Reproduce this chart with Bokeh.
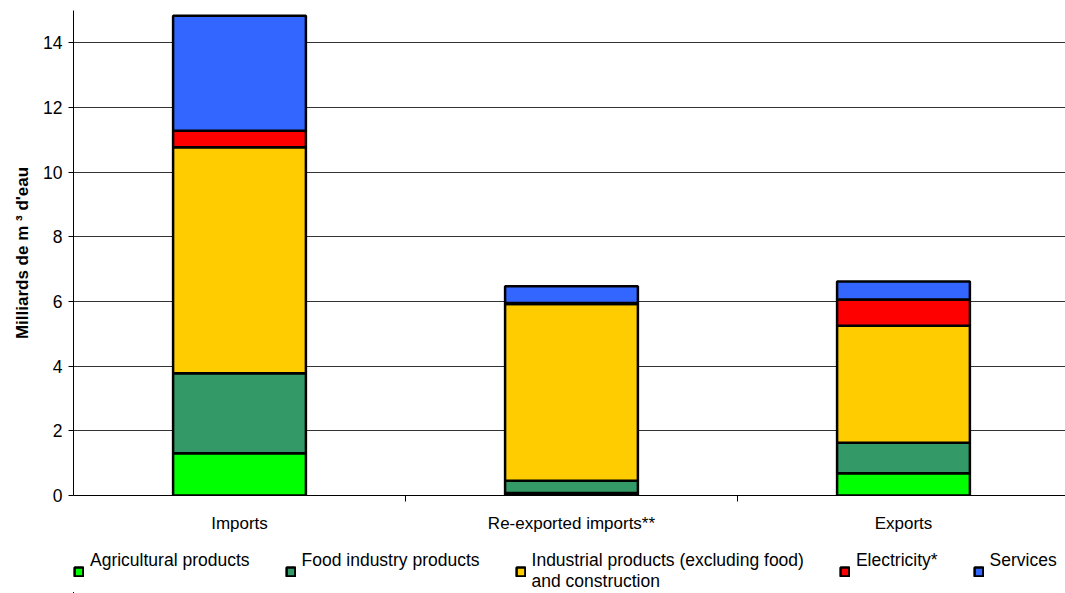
from bokeh.plotting import figure
from bokeh.models import FixedTicker, Legend, LegendItem, Range1d
from bokeh.layouts import column
from bokeh.embed import file_html
from bokeh.resources import INLINE

categories = ["Imports", "Re-exported imports**", "Exports"]
series_names = ["Agricultural products", "Food industry products",
                "Industrial products (excluding food)\nand construction",
                "Electricity*", "Services"]
agricultural = [1.31, 0.08, 0.69]
food = [2.47, 0.38, 0.94]
industrial = [6.99, 5.46, 3.62]
electricity = [0.51, 0.03, 0.81]
services = [3.56, 0.52, 0.56]
colors = ["#00FF00", "#339966", "#FFCC00", "#FF0000", "#3366FF"]
y_ticks = [0, 2, 4, 6, 8, 10, 12, 14]

FONT = "Liberation Sans"
xs = [i + 0.5 for i in range(len(categories))]
data = dict(x=xs, s0=agricultural, s1=food, s2=industrial, s3=electricity, s4=services)
keys = ["s0", "s1", "s2", "s3", "s4"]

p = figure(width=1065, height=540, output_backend="svg", toolbar_location=None,
           x_range=Range1d(0, 2.988), y_range=Range1d(0, 15),
           min_border_left=73, min_border_right=0, min_border_top=10, min_border_bottom=45)
p.outline_line_color = None

rs = p.vbar_stack(keys, x="x", width=0.4, source=data, fill_color=colors,
                  line_color="black", line_width=2.5)

# y axis
p.yaxis.ticker = FixedTicker(ticks=y_ticks)
p.yaxis.minor_tick_line_color = None
p.yaxis.major_tick_out = 5
p.yaxis.major_tick_in = 0
p.yaxis.axis_line_color = "black"
p.yaxis.major_tick_line_color = "black"
p.yaxis.major_label_text_font = FONT
p.yaxis.major_label_text_font_size = "17.5px"
p.yaxis.major_label_text_color = "black"
p.yaxis.major_label_standoff = 6
p.yaxis.axis_label = "Milliards de m ³ d'eau"
p.yaxis.axis_label_text_font = FONT
p.yaxis.axis_label_text_font_size = "17px"
p.yaxis.axis_label_text_font_style = "bold"
p.yaxis.axis_label_text_color = "black"
p.yaxis.axis_label_standoff = 8

# x axis
p.xaxis.ticker = FixedTicker(ticks=xs, minor_ticks=[1, 2])
p.xaxis.major_label_overrides = {x: c for x, c in zip(xs, categories)}
p.xaxis.major_tick_line_color = None
p.xaxis.major_tick_out = 0
p.xaxis.major_tick_in = 0
p.xaxis.minor_tick_line_color = "black"
p.xaxis.minor_tick_out = 6
p.xaxis.minor_tick_in = 0
p.xaxis.axis_line_color = "black"
p.xaxis.major_label_text_font = FONT
p.xaxis.major_label_text_font_size = "17px"
p.xaxis.major_label_text_color = "black"
p.xaxis.major_label_standoff = 12

p.xgrid.grid_line_color = None
p.ygrid.ticker = FixedTicker(ticks=y_ticks[1:])
p.ygrid.grid_line_color = "#333333"
p.ygrid.grid_line_width = 1

# legend strip below the chart (its bars fall outside its view; only the legend shows)
lf = figure(width=1065, height=53, output_backend="svg", toolbar_location=None,
            x_range=Range1d(100, 101), y_range=Range1d(100, 101),
            x_axis_location=None, y_axis_location=None,
            min_border_left=0, min_border_right=0, min_border_top=0, min_border_bottom=0)
lf.grid.visible = False
lf.outline_line_color = None
lrs = lf.vbar_stack(keys, x="x", width=0.4, source=data, fill_color=colors,
                    line_color="black", line_width=2.5)

# single-line labels get an empty second line so all first lines align
legend_labels = [n if "\n" in n else n + "\n " for n in series_names]
items = [LegendItem(label=n, renderers=[r]) for n, r in zip(legend_labels, lrs)]
legend = Legend(items=items, orientation="horizontal", location=(0, 1),
                glyph_width=11, glyph_height=11, label_standoff=6, spacing=35,
                padding=0, margin=0, border_line_color=None, background_fill_alpha=0,
                label_text_font=FONT, label_text_font_size="17.5px",
                label_text_line_height=1.15, label_text_color="black")
lf.add_layout(legend, "center")

layout = column(p, lf, spacing=0)
open("out.html", "w").write(file_html(layout, INLINE))
